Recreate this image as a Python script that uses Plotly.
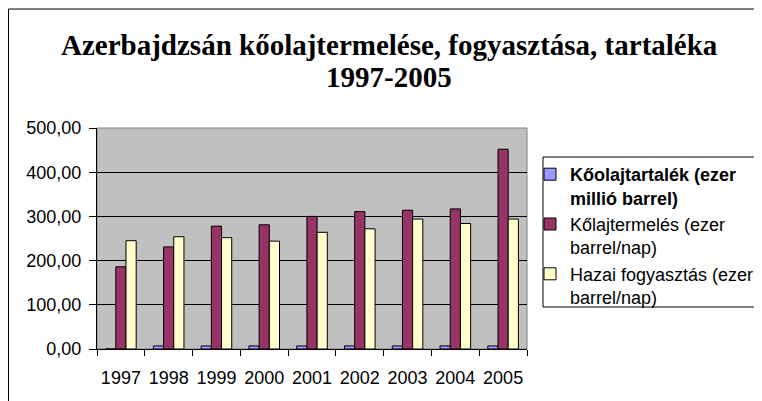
import plotly.graph_objects as go

years = ["1997", "1998", "1999", "2000", "2001", "2002", "2003", "2004", "2005"]
reserves = [0, 7, 7, 7, 7, 7, 7, 7, 7]
production = [186, 231, 278, 281, 300, 311, 314, 317, 452]
consumption = [245, 254, 252, 244, 264, 272, 294, 284, 294]
y_ticks = [0, 100, 200, 300, 400, 500]

names = ["<b>Kőolajtartalék (ezer<br>millió barrel)</b>",
         "Kőlajtermelés (ezer<br>barrel/nap)",
         "Hazai fogyasztás (ezer<br>barrel/nap)"]
colors = ["#9999FF", "#993366", "#FFFFCC"]

# page body has an 8px margin; work in screen pixels and subtract it
OFF = 8
W, H = 762 - OFF, 401 - OFF
L, R, T, B = 97 - OFF, 527 - OFF, 128 - OFF, 349 - OFF
pw, ph = R - L, B - T

def px(x):
    return (x - OFF - L) / pw

def py(y):
    return (B - (y - OFF)) / ph

fig = go.Figure()
for name, vals, col in zip(names, [reserves, production, consumption], colors):
    fig.add_trace(go.Bar(x=years, y=vals, name=name, marker_color=col,
                         marker_line_color="black", marker_line_width=1))

font = "Liberation Sans, Arial, sans-serif"
serif = "Liberation Serif, Times New Roman, serif"
fig.update_layout(
    width=W, height=H,
    margin=dict(l=L, r=W - R, t=T, b=H - B, pad=0, autoexpand=False),
    paper_bgcolor="white", plot_bgcolor="#C0C0C0",
    barmode="group", bargap=0.36, bargroupgap=0,
    separators=", ",
    font=dict(family=font, size=18, color="black"),
    showlegend=True,
    legend=dict(xref="container", yref="container",
                x=(530 - OFF) / W, y=1 - (156 - OFF) / H, xanchor="left", yanchor="top",
                bgcolor="rgba(0,0,0,0)", borderwidth=0,
                font=dict(family=font, size=18, color="black"),
                valign="top", itemwidth=30, tracegroupgap=4),
    xaxis=dict(type="category", showline=True, linecolor="black", linewidth=1,
               ticks="outside", tickson="boundaries", ticklen=6, tickcolor="black",
               showgrid=False, tickfont=dict(size=18), tickangle=0,
               ticklabelstandoff=12, automargin=False),
    yaxis=dict(range=[0, 500], tickvals=y_ticks, tickformat=".2f",
               showline=True, linecolor="black", linewidth=1,
               ticks="outside", ticklen=7, tickcolor="black",
               showgrid=True, gridcolor="black", gridwidth=1,
               zeroline=False, tickfont=dict(size=18), ticklabelstandoff=4,
               automargin=False),
    shapes=[
        dict(type="rect", xref="paper", yref="paper", x0=0, x1=1, y0=0, y1=1,
             line=dict(color="#808080", width=1), layer="below"),
        dict(type="rect", xref="paper", yref="paper", x0=px(8.5), x1=px(775),
             y0=py(420), y1=py(9), line=dict(color="black", width=1)),
        dict(type="rect", xref="paper", yref="paper", x0=px(543), x1=px(775),
             y0=py(307), y1=py(157), line=dict(color="black", width=1)),
    ],
    annotations=[
        dict(text="<b>Azerbajdzsán kőolajtermelése, fogyasztása, tartaléka</b>",
             xref="paper", yref="paper", x=px(389), y=py(45), xanchor="center",
             yanchor="middle", showarrow=False, font=dict(family=serif, size=29)),
        dict(text="<b>1997-2005</b>",
             xref="paper", yref="paper", x=px(389), y=py(77), xanchor="center",
             yanchor="middle", showarrow=False, font=dict(family=serif, size=29)),
    ],
)

fig.write_html("out.html")
